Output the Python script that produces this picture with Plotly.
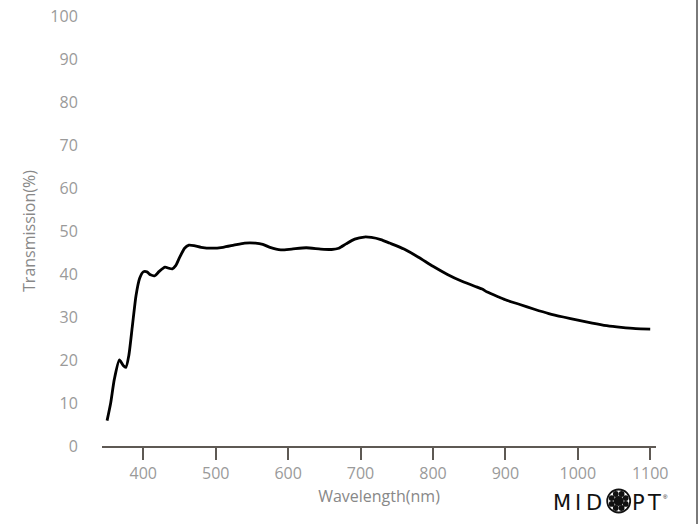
import plotly.graph_objects as go
import math

wavelength = [350, 355, 360, 367, 372, 376, 380, 385, 390, 395, 400, 405, 410, 416, 422,
              430, 436, 440, 445, 450, 457, 463, 470, 480, 495, 510, 525, 540, 555, 565,
              575, 590, 605, 625, 645, 660, 670, 680, 692, 705, 715, 728, 740, 760, 780,
              800, 820, 840, 860, 868, 875, 890, 900, 920, 940, 960, 980, 1000, 1020, 1040,
              1060, 1080, 1100]
transmission = [5.9, 10.0, 15.5, 20.0, 18.8, 18.3, 21.0, 28.0, 35.0, 39.0, 40.5, 40.5, 39.8, 39.6, 40.6,
                41.6, 41.3, 41.2, 42.0, 43.8, 46.0, 46.7, 46.6, 46.2, 46.0, 46.2, 46.7, 47.2, 47.2, 46.9,
                46.2, 45.6, 45.8, 46.1, 45.8, 45.7, 46.0, 47.0, 48.1, 48.6, 48.5, 48.0, 47.2, 45.8, 43.9,
                41.8, 39.9, 38.3, 37.0, 36.5, 35.8, 34.7, 34.0, 32.9, 31.8, 30.8, 30.0, 29.3, 28.6, 28.0,
                27.6, 27.3, 27.2]
x_ticks = [400, 500, 600, 700, 800, 900, 1000, 1100]
y_ticks = [0, 10, 20, 30, 40, 50, 60, 70, 80, 90, 100]

FONT = "Open Sans"
W, H = 699, 524
L, R, T, B = 102, 43, 16, 78
pw, ph = W - L - R, H - T - B

def px(x):
    return (x - L) / pw

def py(y):
    return (H - B - y) / ph

fig = go.Figure()
fig.add_trace(go.Scatter(x=wavelength, y=transmission, mode="lines",
                         line=dict(color="#000000", width=2.8, shape="spline", smoothing=0.6),
                         hoverinfo="skip", showlegend=False))

shapes = []
# right border line
shapes.append(dict(type="line", xref="paper", yref="paper", x0=px(697), x1=px(697),
                   y0=py(-2), y1=py(526), line=dict(color="#7a7a7a", width=2), layer="above"))
# logo emblem
cx, cy = px(618.7), py(501)
shapes.append(dict(type="circle", xref="paper", yref="paper", xsizemode="pixel", ysizemode="pixel",
                   xanchor=cx, yanchor=cy, x0=-11.5, x1=11.5, y0=-11.5, y1=11.5,
                   fillcolor="rgba(0,0,0,0)", line=dict(color="#111111", width=1.8)))
shapes.append(dict(type="circle", xref="paper", yref="paper", xsizemode="pixel", ysizemode="pixel",
                   xanchor=cx, yanchor=cy, x0=-5, x1=5, y0=-5, y1=5,
                   fillcolor="#111111", line=dict(width=0)))
for k in range(8):
    a = k * math.pi / 4 + math.pi / 8
    dx, dy = 7.6 * math.cos(a), 7.6 * math.sin(a)
    shapes.append(dict(type="circle", xref="paper", yref="paper", xsizemode="pixel", ysizemode="pixel",
                       xanchor=cx, yanchor=cy, x0=dx - 2.9, x1=dx + 2.9, y0=dy - 2.9, y1=dy + 2.9,
                       fillcolor="#111111", line=dict(width=0)))

logo_letters = ["M", "I", "D", "P", "T"]
logo_centers = [562, 578, 593.5, 638.5, 653.5]
annotations = [
    dict(text=ch, xref="paper", yref="paper", x=px(xc), y=py(503), xanchor="center", yanchor="middle",
         showarrow=False, font=dict(family="DejaVu Sans", size=21, color="#111111"))
    for ch, xc in zip(logo_letters, logo_centers)
]
annotations.append(dict(text="®", xref="paper", yref="paper", x=px(665), y=py(497), xanchor="center",
                        yanchor="middle", showarrow=False,
                        font=dict(family="Liberation Sans", size=6, color="#111111")))

fig.update_layout(
    width=W, height=H,
    margin=dict(l=L, r=R, t=T, b=B, autoexpand=False),
    paper_bgcolor="white", plot_bgcolor="white",
    font=dict(family=FONT, size=16, color="#9a9a9a"),
    shapes=shapes, annotations=annotations,
    xaxis=dict(range=[343, 1108], tickvals=x_ticks, ticks="outside", ticklen=12, tickwidth=2,
               tickcolor="#5e5954", showline=True, linecolor="#5e5954", linewidth=2,
               showgrid=False, zeroline=False, automargin=False,
               tickfont=dict(family=FONT, size=16, color="#9a9a9a"),
               title=dict(text="Wavelength(nm)", standoff=8,
                          font=dict(family=FONT, size=16, color="#888888"))),
    yaxis=dict(range=[0, 100], tickvals=y_ticks, ticks="outside", ticklen=20,
               tickcolor="rgba(0,0,0,0)", showline=False, showgrid=False, zeroline=False,
               automargin=False,
               tickfont=dict(family=FONT, size=16, color="#9a9a9a"),
               title=dict(text="Transmission(%)", standoff=10,
                          font=dict(family=FONT, size=16, color="#888888"))),
)

fig.write_html("out.html", config={"displayModeBar": False},
               post_script="document.body.style.margin='0';")
